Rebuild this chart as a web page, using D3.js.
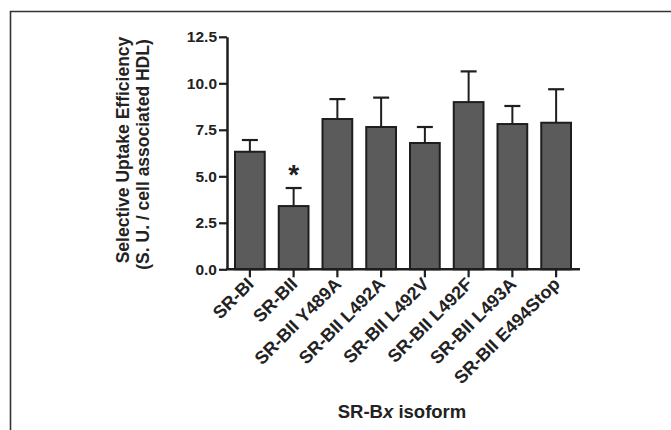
<!DOCTYPE html>
<html>
<head>
<meta charset="utf-8">
<script src="https://cdn.jsdelivr.net/npm/d3@7"></script>
<style>
  html, body { margin: 0; padding: 0; background: #fff; }
  svg { display: block; font-family: "Liberation Sans", Arial, sans-serif; }
</style>
</head>
<body>
<svg id="chart" width="671" height="430"></svg>
<script>
const categories = ["SR-BI", "SR-BII", "SR-BII Y489A", "SR-BII L492A", "SR-BII L492V", "SR-BII L492F", "SR-BII L493A", "SR-BII E494Stop"];
const means = [6.32, 3.40, 8.08, 7.65, 6.79, 8.99, 7.81, 7.88];
const sems = [0.63, 0.97, 1.07, 1.58, 0.86, 1.65, 0.97, 1.80];
const significant = [false, true, false, false, false, false, false, false];
const yTicks = [0, 2.5, 5, 7.5, 10, 12.5];

const svg = d3.select("#chart");

// frame (only top and left edges visible in the crop)
svg.append("path")
  .attr("d", "M10.5,430 L10.5,11.5 L671,11.5")
  .attr("fill", "none").attr("stroke", "#333").attr("stroke-width", 1.6);

const y = d3.scaleLinear().domain([0, 12.5]).range([269.3, 36.8]);
const x = d3.scaleBand().domain(categories).range([228, 578])
  .paddingInner(0.32).paddingOuter(0.16);

const axisColor = "#1e1e1e";

// bars
const g = svg.append("g");
g.selectAll("rect.bar").data(categories).join("rect")
  .attr("class", "bar")
  .attr("x", d => x(d))
  .attr("width", x.bandwidth())
  .attr("y", (d, i) => y(means[i]))
  .attr("height", (d, i) => y(0) - y(means[i]))
  .attr("fill", "#5b5b5b")
  .attr("stroke", "#1e1e1e").attr("stroke-width", 2);

// error bars (upper only)
const capW = 16;
g.selectAll("line.err").data(categories).join("line")
  .attr("x1", d => x(d) + x.bandwidth() / 2)
  .attr("x2", d => x(d) + x.bandwidth() / 2)
  .attr("y1", (d, i) => y(means[i]))
  .attr("y2", (d, i) => y(means[i] + sems[i]))
  .attr("stroke", "#1e1e1e").attr("stroke-width", 2);
g.selectAll("line.cap").data(categories).join("line")
  .attr("x1", d => x(d) + x.bandwidth() / 2 - capW / 2)
  .attr("x2", d => x(d) + x.bandwidth() / 2 + capW / 2)
  .attr("y1", (d, i) => y(means[i] + sems[i]))
  .attr("y2", (d, i) => y(means[i] + sems[i]))
  .attr("stroke", "#1e1e1e").attr("stroke-width", 2.2);

// significance star
g.selectAll("text.star").data(categories.filter((d, i) => significant[i])).join("text")
  .attr("x", d => x(d) + x.bandwidth() / 2)
  .attr("y", d => { const i = categories.indexOf(d); return y(means[i] + sems[i]) - 4; })
  .attr("text-anchor", "middle")
  .attr("font-size", 28).attr("font-weight", "bold").attr("fill", "#1e1e1e")
  .text("*");

// y axis
const yAxis = svg.append("g").attr("transform", "translate(227,0)")
  .call(d3.axisLeft(y).tickValues(yTicks).tickFormat(d3.format(".1f")).tickSize(8).tickPadding(2).tickSizeOuter(0));
yAxis.select(".domain").attr("stroke", axisColor).attr("stroke-width", 2.5);
yAxis.selectAll(".tick line").attr("stroke", axisColor).attr("stroke-width", 2.2);
yAxis.selectAll(".tick text").attr("font-size", 15.5).attr("font-weight", "bold")
  .attr("fill", "#222").attr("font-family", "Liberation Sans, Arial, sans-serif");

// x axis
const xAxis = svg.append("g").attr("transform", `translate(0,${y(0)})`)
  .call(d3.axisBottom(x).tickSize(8).tickSizeOuter(0));
xAxis.select(".domain").attr("d", `M226,0H580`).attr("stroke", axisColor).attr("stroke-width", 2.5);
xAxis.selectAll(".tick line").attr("stroke", axisColor).attr("stroke-width", 2.2);
xAxis.selectAll(".tick text")
  .attr("font-size", 18).attr("font-weight", "bold").attr("fill", "#222")
  .attr("font-family", "Liberation Sans, Arial, sans-serif")
  .attr("text-anchor", "end")
  .attr("dy", 0)
  .attr("transform", "translate(5,16) rotate(-45)")
  .attr("y", 0).attr("x", 0);

// axis titles
svg.append("text")
  .attr("transform", "translate(128.5,150) rotate(-90)")
  .attr("text-anchor", "middle")
  .attr("font-size", 17.5).attr("font-weight", "bold").attr("fill", "#222")
  .text("Selective Uptake Efficiency");
svg.append("text")
  .attr("transform", "translate(149,154.5) rotate(-90)")
  .attr("text-anchor", "middle")
  .attr("font-size", 17.5).attr("font-weight", "bold").attr("fill", "#222")
  .text("(S. U. / cell associated HDL)");

const xt = svg.append("text")
  .attr("x", 402).attr("y", 418)
  .attr("text-anchor", "middle")
  .attr("font-size", 18.5).attr("font-weight", "bold").attr("fill", "#222");
xt.append("tspan").text("SR-B");
xt.append("tspan").attr("font-style", "italic").text("x");
xt.append("tspan").text(" isoform");
</script>
</body>
</html>
